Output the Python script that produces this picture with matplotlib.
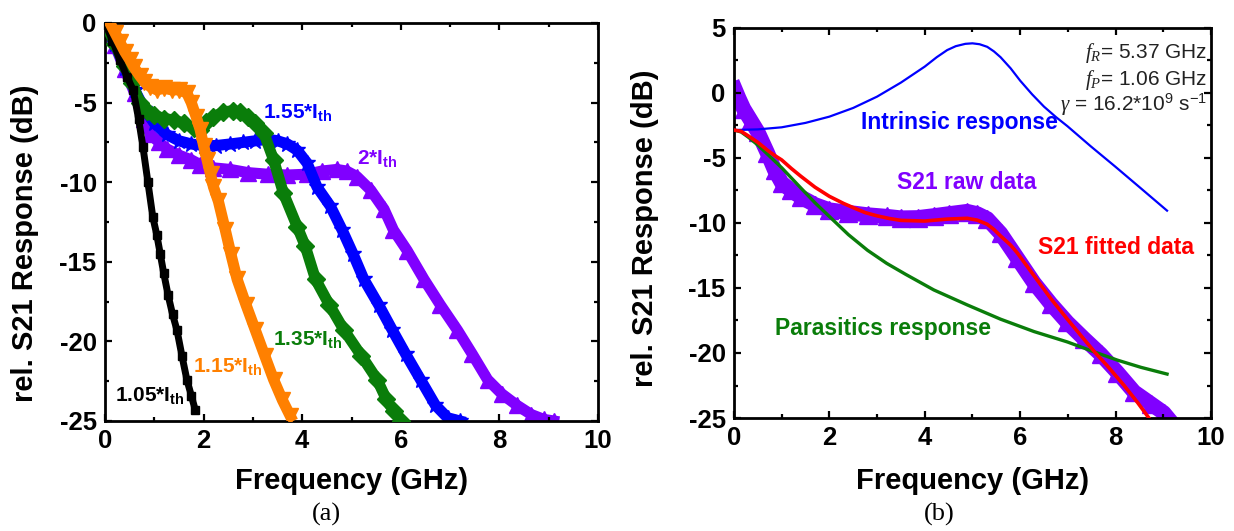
import matplotlib
matplotlib.use("Agg")
import matplotlib.pyplot as plt
from matplotlib.ticker import MultipleLocator

plt.rcParams["font.family"] = ["Liberation Sans", "DejaVu Sans"]
plt.rcParams["axes.unicode_minus"] = False
plt.rcParams["mathtext.fontset"] = "custom"
plt.rcParams["mathtext.rm"] = "Liberation Sans"
plt.rcParams["mathtext.bf"] = "Liberation Sans:bold"
plt.rcParams["mathtext.it"] = "Liberation Serif:italic"

# ── Panel (a): S21 for several bias currents ──────────────────────────────────
f_105 = [0, 0.15, 0.3, 0.45, 0.57, 0.68, 0.77, 0.87, 0.97, 1.05, 1.12, 1.19,
         1.28, 1.37, 1.46, 1.56, 1.66, 1.75, 1.83]
s_105 = [0, -1.1, -2.3, -3.4, -4.2, -6.0, -7.8, -10.0, -12.2, -13.3, -14.5,
         -15.7, -17.1, -18.3, -19.3, -20.9, -22.4, -23.4, -24.3]

f_115 = [0.1, 0.2, 0.3, 0.4, 0.5, 0.58, 0.7, 0.8, 0.92, 1.05, 1.2, 1.35, 1.5,
         1.66, 1.75, 1.85, 1.93, 2.0, 2.07, 2.14, 2.2, 2.3, 2.44, 2.56, 2.68,
         2.86, 3.05, 3.24, 3.42, 3.6, 3.76]
s_115 = [0, -0.6, -1.2, -1.8, -2.3, -2.75, -3.3, -3.7, -4.0, -4.2, -4.1, -4.2,
         -4.2, -4.4, -5.0, -5.9, -6.7, -7.7, -8.6, -9.5, -10.3, -11.2, -13.0,
         -14.6, -16.1, -17.7, -19.3, -20.9, -22.4, -23.7, -24.7]

f_135 = [0, 0.2, 0.4, 0.55, 0.71, 0.85, 1.0, 1.2, 1.4, 1.6, 1.8, 1.93, 2.05,
         2.2, 2.4, 2.6, 2.74, 2.9, 3.05, 3.22, 3.42, 3.62, 3.9, 4.06, 4.27,
         4.55, 4.85, 5.2, 5.52, 5.7, 5.86, 6.0]
s_135 = [0, -1.3, -2.7, -3.8, -5.0, -5.5, -5.8, -6.0, -6.1, -6.3, -6.6, -6.7,
         -6.2, -5.9, -5.6, -5.5, -5.6, -5.9, -6.3, -6.9, -8.6, -10.7, -12.8,
         -14.0, -16.1, -17.7, -19.3, -20.9, -22.4, -23.6, -24.4, -25.0]

f_155 = [0, 0.2, 0.4, 0.6, 0.8, 1.0, 1.25, 1.5, 1.75, 2.0, 2.25, 2.54, 2.8,
         3.05, 3.3, 3.5, 3.7, 3.9, 4.1, 4.3, 4.57, 4.81, 5.03, 5.25, 5.55,
         5.83, 6.1, 6.4, 6.7, 6.95, 7.2]
s_155 = [0, -1.3, -2.8, -4.2, -5.4, -6.3, -7.0, -7.4, -7.6, -7.7, -7.7, -7.6,
         -7.5, -7.4, -7.3, -7.4, -7.6, -8.0, -8.8, -10.3, -11.5, -13.0, -14.5,
         -16.1, -17.7, -19.3, -20.8, -22.4, -24.0, -24.8, -25.0]

f_200 = [0, 0.2, 0.4, 0.6, 0.8, 0.92, 1.1, 1.25, 1.5, 1.75, 1.93, 2.2, 2.54,
         2.9, 3.3, 3.7, 4.1, 4.4, 4.7, 4.9, 5.11, 5.39, 5.66, 5.85, 6.13, 6.47,
         6.8, 7.15, 7.45, 7.76, 8.05, 8.35, 8.65, 8.9, 9.1]
s_200 = [0, -1.4, -2.9, -4.4, -6.0, -7.0, -7.5, -7.9, -8.3, -8.6, -8.9, -9.1,
         -9.2, -9.4, -9.5, -9.55, -9.5, -9.3, -9.2, -9.3, -9.65, -10.5, -11.7,
         -13.0, -14.3, -16.1, -17.7, -19.3, -20.8, -22.4, -23.3, -24.0, -24.6,
         -24.9, -25.0]

# ── Panel (b): raw data, fit and its two factors ─────────────────────────────
f_raw = [0.02, 0.1, 0.2, 0.35, 0.5, 0.7, 0.85, 1.0, 1.2, 1.4, 1.7, 2.0, 2.4,
         2.8, 3.2, 3.5, 3.85, 4.19, 4.5, 4.89, 5.1, 5.31, 5.59, 5.94, 6.29,
         6.64, 6.99, 7.34, 7.69, 8.04, 8.39, 8.74, 9.01, 9.1]
s_raw = [0.3, -0.4, -1.2, -2.1, -3.0, -4.6, -5.9, -6.9, -7.5, -8.0, -8.6, -9.0,
         -9.2, -9.38, -9.5, -9.62, -9.6, -9.45, -9.3, -9.12, -9.3, -9.68,
         -10.8, -12.7, -14.6, -16.2, -17.65, -18.9, -20.1, -21.5, -23.0, -23.9,
         -24.6, -25.0]

f_fit = [0, 0.15, 0.3, 0.5, 0.7, 0.85, 1.0, 1.2, 1.4, 1.7, 2.0, 2.3, 2.52,
         2.75, 3.0, 3.25, 3.5, 4.0, 4.47, 4.89, 5.1, 5.31, 5.45, 5.59, 5.8,
         5.94, 6.1, 6.29, 6.64, 6.99, 7.34, 7.58, 7.83, 8.18, 8.46, 8.7]
s_fit = [-2.85, -2.95, -3.3, -3.8, -4.4, -4.8, -5.15, -5.8, -6.4, -7.25, -7.95,
         -8.5, -8.85, -9.2, -9.45, -9.65, -9.8, -9.85, -9.7, -9.64, -9.78,
         -10.1, -10.5, -11.0, -11.7, -12.3, -13.1, -14.05, -15.8, -17.4, -18.95,
         -20.0, -21.0, -22.5, -23.8, -25.0]

f_par = [0, 0.15, 0.3, 0.5, 0.7, 1.0, 1.4, 1.7, 2.0, 2.4, 2.8, 3.2, 3.6, 4.19,
         4.89, 5.59, 6.29, 6.99, 7.58, 8.04, 8.53, 9.08]
s_par = [-2.85, -3.0, -3.4, -4.0, -4.7, -5.75, -7.3, -8.45, -9.5, -10.9,
         -12.1, -13.1, -13.95, -15.15, -16.3, -17.4, -18.35, -19.15, -19.95,
         -20.55, -21.1, -21.62]

f_int = [0, 0.5, 1.0, 1.5, 2.0, 2.5, 3.0, 3.5, 4.0, 4.25, 4.47, 4.65, 4.85,
         5.0, 5.15, 5.31, 5.45, 5.59, 5.8, 6.0, 6.25, 6.5, 6.75, 6.99, 7.48,
         7.99, 8.53, 9.08]
s_int = [-2.85, -2.8, -2.64, -2.3, -1.82, -1.15, -0.28, 0.8, 2.03, 2.75, 3.3,
         3.6, 3.78, 3.82, 3.75, 3.55, 3.2, 2.75, 1.9, 0.95, -0.1, -1.05,
         -1.85, -2.55, -4.1, -5.65, -7.33, -9.05]

PURPLE = "#8000ff"
BLUE = "#0000ff"
GREEN = "#0a7d0a"
ORANGE = "#ff8000"
RED = "#ff0000"


def style_axes(ax, ylim, yticks):
    ax.set_xlim(0, 10)
    ax.set_ylim(*ylim)
    ax.set_yticks(yticks)
    ax.xaxis.set_major_locator(MultipleLocator(2))
    ax.xaxis.set_minor_locator(MultipleLocator(1))
    ax.yaxis.set_minor_locator(MultipleLocator(2.5))
    ax.tick_params(which="both", direction="in", top=True, right=True, width=1.6)
    ax.tick_params(which="major", length=5, labelsize=18.5, pad=6)
    ax.tick_params(which="minor", length=3)
    for lbl in ax.get_xticklabels() + ax.get_yticklabels():
        lbl.set_fontweight("bold")
    for sp in ax.spines.values():
        sp.set_linewidth(2)
    ax.set_xlabel("Frequency (GHz)", fontsize=21, fontweight="bold", labelpad=2)


fig = plt.figure(figsize=(12.34, 5.31), dpi=100)

# ── (a) ────────────────────────────────────────────────────────────────────────
ax1 = fig.add_axes([0.0851, 0.2072, 0.3995, 0.7495])
ax1.plot(f_200, s_200, color=PURPLE, lw=8, marker="^", ms=11, zorder=1)
ax1.plot(f_155, s_155, color=BLUE, lw=8, marker="*", ms=12, zorder=2)
ax1.plot(f_135, s_135, color=GREEN, lw=8, marker="D", ms=9, zorder=3)
ax1.plot(f_105, s_105, color="black", lw=5, marker="s", ms=6, zorder=4)
ax1.plot(f_115, s_115, color=ORANGE, lw=8, marker="v", ms=11, zorder=5)
style_axes(ax1, (-25, 0), [0, -5, -10, -15, -20, -25])

lab_kw = dict(fontsize=15, fontweight="bold", va="center", ha="left")
ax1.text(3.21, -5.6, r"1.55*I$_\mathbf{th}$", color=BLUE, **lab_kw)
ax1.text(5.12, -8.5, r"2*I$_\mathbf{th}$", color=PURPLE, **lab_kw)
ax1.text(3.41, -19.9, r"1.35*I$_\mathbf{th}$", color=GREEN, **lab_kw)
ax1.text(1.79, -21.6, r"1.15*I$_\mathbf{th}$", color=ORANGE, **lab_kw)
ax1.text(0.2, -23.4, r"1.05*I$_\mathbf{th}$", color="black", **lab_kw)

# ── (b) ────────────────────────────────────────────────────────────────────────
ax2 = fig.add_axes([0.5948, 0.2128, 0.3865, 0.7345])
ax2.plot(f_raw, s_raw, color=PURPLE, lw=11, marker="^", ms=13, zorder=1)
ax2.plot(f_par, s_par, color=GREEN, lw=2.4, zorder=2)
ax2.plot(f_int, s_int, color=BLUE, lw=1.6, zorder=2)
ax2.plot(f_fit, s_fit, color=RED, lw=2.6, zorder=3)
style_axes(ax2, (-25, 5), [5, 0, -5, -10, -15, -20, -25])

blab = dict(fontsize=16.5, fontweight="bold", va="center", ha="center")
ax2.text(4.72, -2.25, "Intrinsic response", color=BLUE, **blab)
ax2.text(4.88, -6.9, "S21 raw data", color=PURPLE, **blab)
ax2.text(8.0, -11.9, "S21 fitted data", color=RED, **blab)
ax2.text(3.12, -18.1, "Parasitics response", color=GREEN, **blab)

ann = dict(fontsize=15, color="#222222", ha="right", va="center")
ax2.text(9.92, 3.08, r"$f_R$= 5.37 GHz", **ann)
ax2.text(9.92, 1.0, r"$f_P$= 1.06 GHz", **ann)
ax2.text(9.92, -0.92, r"$\gamma$ = 16.2*10$^9$ s$^{-1}$", **ann)

# y labels and captions placed in figure pixels
ylab = dict(fontsize=21, fontweight="bold", rotation=90, ha="center", va="center")
fig.text(25 / 1234, 1 - 243 / 531, "rel. S21 Response (dB)", **ylab)
fig.text(645 / 1234, 1 - 228 / 531, "rel. S21 Response (dB)", **ylab)

cap = dict(fontsize=19, family="Liberation Serif", ha="center", va="center")
fig.text(326 / 1234, 1 - 514 / 531, "(a)", **cap)
fig.text(939 / 1234, 1 - 514 / 531, "(b)", **cap)

ax1.xaxis.set_label_coords(0.5, -0.115)
ax2.xaxis.set_label_coords(0.5, -0.125)

fig.savefig("out.png", dpi=100)
